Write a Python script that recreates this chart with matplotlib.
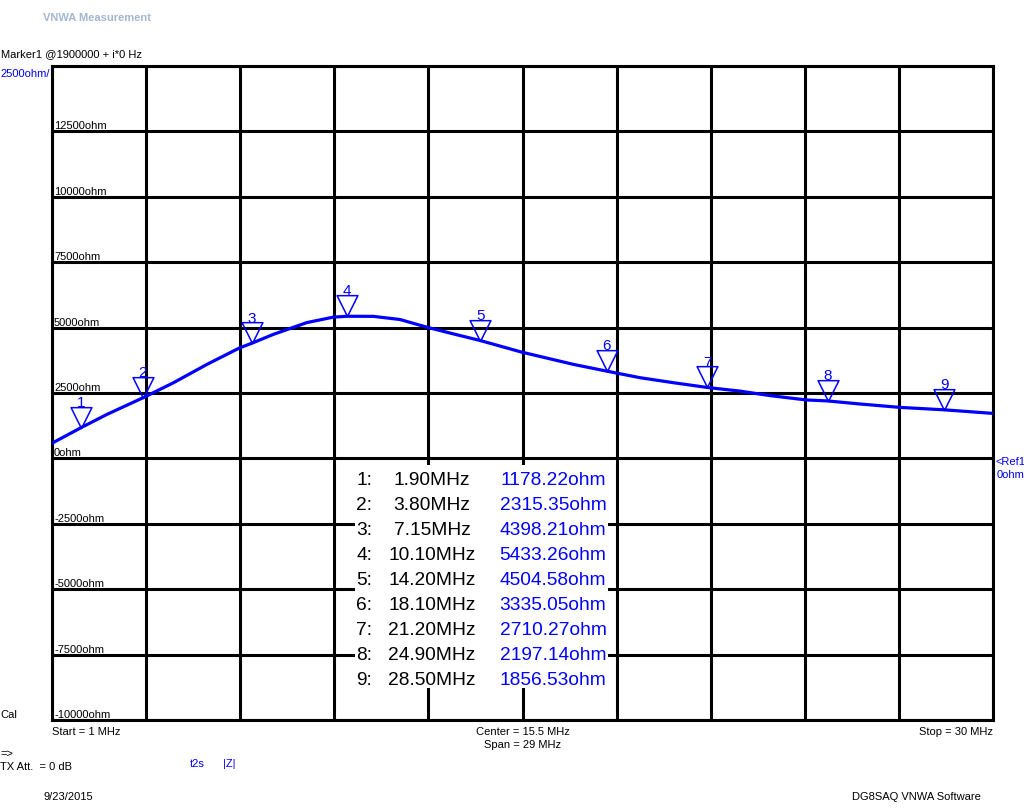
import numpy as np
import matplotlib
matplotlib.use('Agg')
import matplotlib.pyplot as plt
from matplotlib.path import Path
from matplotlib.patches import Rectangle

plt.rcParams['font.family'] = ['Liberation Sans', 'DejaVu Sans']

# |Z| trace (MHz, ohm)
trace_freq = [1.0, 1.9, 2.69, 3.8, 4.74, 5.77, 6.79, 7.15, 7.82, 8.85, 9.67, 10.1, 10.9,
              11.72, 12.6, 13.4, 14.2, 15.47, 17.07, 18.1, 19.12, 20.15, 21.2, 22.2,
              23.13, 24.24, 24.9, 25.9, 27.13, 28.5, 30.0]
trace_ohm = [580, 1178, 1680, 2315, 2890, 3590, 4230, 4398, 4740, 5190, 5400, 5433, 5430,
             5310, 5000, 4750, 4505, 4064, 3594, 3335, 3085, 2894, 2710, 2573,
             2400, 2235, 2197, 2080, 1950, 1857, 1720]

# marker table
marker_freq = [1.90, 3.80, 7.15, 10.10, 14.20, 18.10, 21.20, 24.90, 28.50]
marker_ohm = [1178.22, 2315.35, 4398.21, 5433.26, 4504.58, 3335.05, 2710.27, 2197.14, 1856.53]

f_start, f_stop = 1.0, 30.0
y_ref, y_div, n_div = -10000, 2500, 10
y_labels = [12500, 10000, 7500, 5000, 2500, 0, -2500, -5000, -7500, -10000]

W, H = 1024, 811
BLUE = '#0000ff'


def fx(x):
  return x / W


def fy(y):
  return 1 - y / H


fig = plt.figure(figsize=(W / 100, H / 100), dpi=100)
ax = fig.add_axes([fx(52), fy(720), 941 / W, 654 / H])
ax.set_xlim(f_start, f_stop)
ax.set_ylim(y_ref, y_ref + y_div * n_div)
ax.set_xticks(np.linspace(f_start, f_stop, 11))
ax.set_yticks(np.arange(y_ref, y_ref + y_div * n_div + 1, y_div))
ax.tick_params(length=0, labelbottom=False, labelleft=False)
ax.grid(True, color='black', linewidth=2.2)
ax.set_axisbelow(True)
for sp in ax.spines.values():
  sp.set_linewidth(2.2)

# y labels inside the grid
for v in y_labels:
  ax.annotate(f'{v}ohm', (f_start, v), xytext=(1.5, 1.5), textcoords='offset points',
              ha='left', va='baseline', fontsize=8)

# trace
ax.plot(trace_freq, trace_ohm, color=BLUE, linewidth=2.3, zorder=3)

# marker triangles, tip on the trace
tri = Path([(-1, 2), (1, 2), (0, 0), (-1, 2)],
           [Path.MOVETO, Path.LINETO, Path.LINETO, Path.CLOSEPOLY])
ax.plot(marker_freq, marker_ohm, linestyle='none', marker=tri, markersize=30,
        markerfacecolor='none', markeredgecolor=BLUE, markeredgewidth=1.1, zorder=4)
for i, (f, v) in enumerate(zip(marker_freq, marker_ohm)):
  ax.annotate(str(i + 1), (f, v), xytext=(0, 15), textcoords='offset points',
              ha='center', va='baseline', fontsize=11, color=BLUE, zorder=5)

# marker table, on white so the grid does not show through
fig.add_artist(Rectangle((fx(355), fy(688)), 253 / W, 223 / H, transform=fig.transFigure,
                         facecolor='white', edgecolor='none', zorder=2))
for i, (f, v) in enumerate(zip(marker_freq, marker_ohm)):
  yb = fy(485 + 25 * i)
  fig.text(fx(372), yb, f'{i + 1}:', ha='right', va='baseline', fontsize=13.8, zorder=3)
  fig.text(fx(432), yb, f'{f:.2f}MHz', ha='center', va='baseline', fontsize=13.8, zorder=3)
  fig.text(fx(553), yb, f'{v:.2f}ohm', ha='center', va='baseline', fontsize=13.8,
           color=BLUE, zorder=3)

# screen annotations
fig.text(fx(43), fy(21), 'VNWA Measurement', fontsize=8, fontweight='bold', color='#a3b7d0',
         ha='left', va='baseline')
fig.text(fx(1), fy(57), 'Marker1 @1900000 + i*0 Hz', fontsize=8, ha='left', va='baseline')
fig.text(fx(0), fy(77), '2500ohm/', fontsize=8, color=BLUE, ha='left', va='baseline')
fig.text(fx(0), fy(718), 'Cal', fontsize=8, ha='left', va='baseline')
fig.text(fx(52), fy(735), f'Start = {f_start:g} MHz', fontsize=8, ha='left', va='baseline')
fig.text(fx(523), fy(735), f'Center = {(f_start + f_stop) / 2:g} MHz', fontsize=8,
         ha='center', va='baseline')
fig.text(fx(523), fy(748), f'Span = {f_stop - f_start:g} MHz', fontsize=8,
         ha='center', va='baseline')
fig.text(fx(993), fy(735), f'Stop = {f_stop:g} MHz', fontsize=8, ha='right', va='baseline')
fig.text(fx(995), fy(465), '<Ref1', fontsize=8, color=BLUE, ha='left', va='baseline')
fig.text(fx(997), fy(478), '0ohm', fontsize=8, color=BLUE, ha='left', va='baseline')
fig.text(fx(0), fy(757), '=>', fontsize=8, ha='left', va='baseline')
fig.text(fx(0), fy(770), 'TX Att.  = 0 dB', fontsize=8, ha='left', va='baseline')
fig.text(fx(190), fy(767), 't2s', fontsize=8, color=BLUE, ha='left', va='baseline')
fig.text(fx(223), fy(767), '|Z|', fontsize=8, color=BLUE, ha='left', va='baseline')
fig.text(fx(43), fy(800), '9/23/2015', fontsize=8, ha='left', va='baseline')
fig.text(fx(981), fy(800), 'DG8SAQ VNWA Software', fontsize=8, ha='right', va='baseline')

fig.savefig('out.png', dpi=100, facecolor='white')
